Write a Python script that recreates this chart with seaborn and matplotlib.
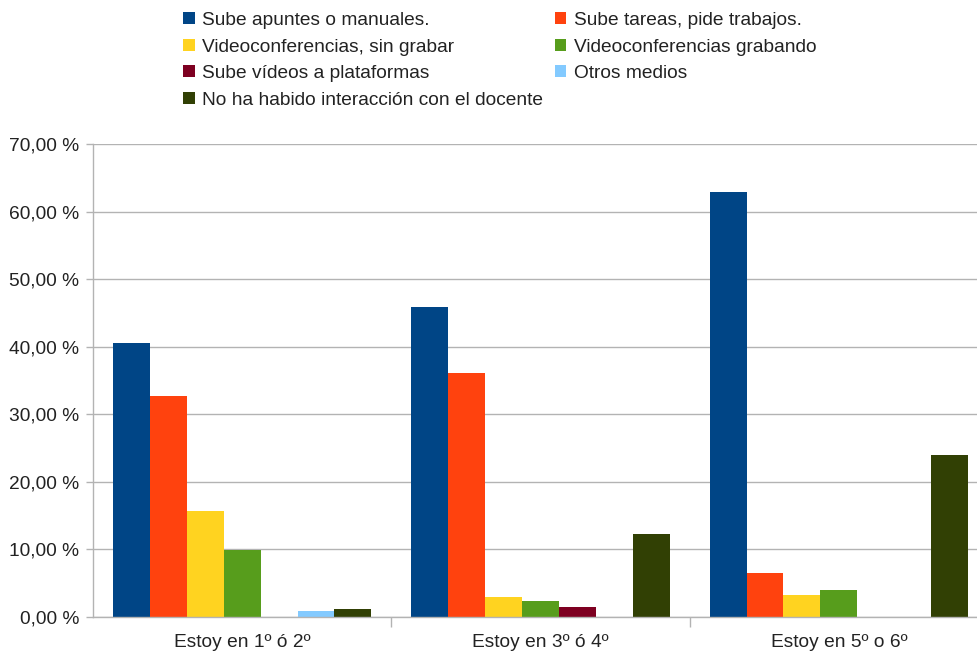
import pandas as pd
import matplotlib
matplotlib.use('Agg')
import matplotlib.pyplot as plt
from matplotlib.patches import Patch
from matplotlib.ticker import FuncFormatter, FixedLocator
import seaborn as sns

# data (percent)
grupos = ['Estoy en 1º ó 2º', 'Estoy en 3º ó 4º', 'Estoy en 5º o 6º']
series = ['Sube apuntes o manuales.', 'Sube tareas, pide trabajos.',
          'Videoconferencias, sin grabar', 'Videoconferencias grabando',
          'Sube vídeos a plataformas', 'Otros medios',
          'No ha habido interacción con el docente']
apuntes = [40.5, 45.9, 62.9]
tareas = [32.7, 36.1, 6.5]
video_sin = [15.7, 3.0, 3.3]
video_grab = [9.9, 2.4, 4.0]
sube_videos = [0.0, 1.5, 0.0]
otros = [0.9, 0.0, 0.0]
sin_interaccion = [1.2, 12.3, 24.0]
colores = ['#004586', '#ff420e', '#ffd320', '#579d1c', '#7e0021', '#83caff', '#314004']

valores = [apuntes, tareas, video_sin, video_grab, sube_videos, otros, sin_interaccion]
rows = []
for s, vals in zip(series, valores):
    for g, v in zip(grupos, vals):
        rows.append({'Grupo': g, 'Serie': s, 'Valor': v})
df = pd.DataFrame(rows)

sns.set_style('white')
plt.rcParams['font.family'] = ['Liberation Sans', 'DejaVu Sans']
fs = 13.8

fig = plt.figure(figsize=(9.77, 6.53), dpi=100)
ax = fig.add_axes([93 / 977, 1 - 617 / 653, 895 / 977, (617 - 144) / 653])

sns.barplot(data=df, x='Grupo', y='Valor', hue='Serie', hue_order=series,
            palette=colores, width=0.866, saturation=1, ax=ax, legend=False,
            linewidth=0)

ax.set_xlim(-0.5, 2.5)
ax.set_ylim(0, 70)
ax.set_yticks(range(0, 71, 10))
ax.yaxis.set_major_formatter(FuncFormatter(lambda v, p: f'{v:.2f} %'.replace('.', ',')))
ax.grid(axis='y', color='#b3b3b3', linewidth=1)
ax.set_axisbelow(True)
ax.set_xlabel('')
ax.set_ylabel('')

for side in ['top', 'right']:
    ax.spines[side].set_visible(False)
for side in ['left', 'bottom']:
    ax.spines[side].set_color('#b3b3b3')
    ax.spines[side].set_linewidth(1)

ax.xaxis.set_minor_locator(FixedLocator([0.5, 1.5]))
ax.tick_params(axis='x', which='major', length=0, pad=12, labelsize=fs, labelcolor='#222222')
ax.tick_params(axis='x', which='minor', length=7, color='#b3b3b3', width=1, direction='out', bottom=True)
ax.tick_params(axis='y', length=5, color='#b3b3b3', width=1, direction='out', left=True,
               pad=5, labelsize=fs, labelcolor='#222222')

# legend in row order, two columns
orden = [0, 2, 4, 6, 1, 3, 5]
handles = [Patch(facecolor=colores[i], edgecolor='none') for i in orden]
labels = [series[i] for i in orden]
fig.legend(handles, labels, ncol=2, loc='upper left', bbox_to_anchor=(183 / 977, 1 - 12 / 653),
           frameon=False, fontsize=fs, handlelength=0.6, handleheight=0.6,
           handletextpad=0.4, columnspacing=0.6, labelspacing=0.5, borderpad=0, borderaxespad=0,
           labelcolor='#222222')

fig.savefig('out.png', dpi=100)
